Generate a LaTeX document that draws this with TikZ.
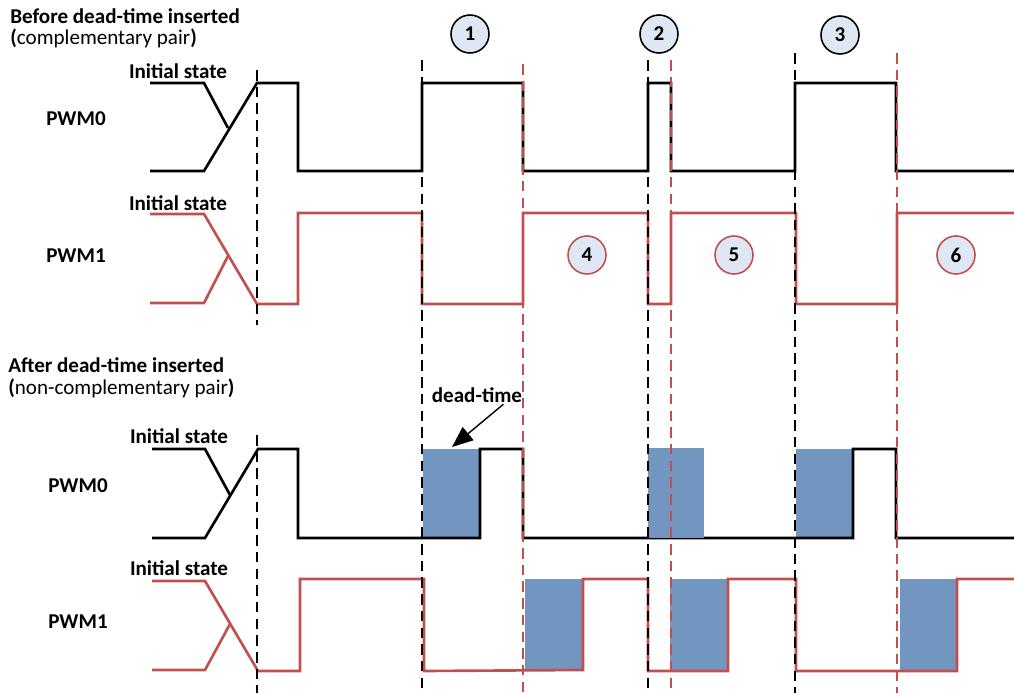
\documentclass[tikz,border=0pt]{standalone}
\usepackage{fontspec}
\setmainfont{Carlito}
\usetikzlibrary{arrows.meta,positioning}
\definecolor{pwmred}{RGB}{192,80,77}
\definecolor{dtblue}{RGB}{115,150,192}
\definecolor{numfill}{RGB}{222,231,243}

\begin{document}
\begin{tikzpicture}[
  x=0.02cm,
  y=-0.02cm,
  headtext/.style={
    anchor=base west,
    inner sep=0pt,
    font=\fontsize{12}{14}\selectfont
  },
  signame/.style={
    anchor=base,
    inner sep=0pt,
    font=\bfseries\fontsize{12}{14}\selectfont
  },
  num/.style={
    circle,
    draw,
    fill=numfill,
    line width=0.9pt,
    minimum size=0.76cm,
    inner sep=0pt,
    font=\bfseries\fontsize{12}{14}\selectfont
  },
  rednum/.style={num, draw=pwmred},
  sig/.style={line width=1.5pt, line join=miter},
  redsig/.style={sig, draw=pwmred},
  cut/.style={line width=0.85pt, dash pattern=on 6pt off 3.5pt},
  redcut/.style={cut, draw=pwmred},
  dead/.style={fill=dtblue},
  arr/.style={-{Triangle[length=0.42cm, width=0.34cm]}, thick}
]
\useasboundingbox (0,0) rectangle (1014,693);

\node[headtext] (before) at (10,23) {\textbf{Before dead-time inserted}};
\node[headtext] (beforepair) at (10,44) {\textbf{(}complementary pair\textbf{)}};
\node[headtext] (after) at (8,372) {\textbf{After dead-time inserted}};
\node[headtext] (afterpair) at (8,394) {\textbf{(}non-complementary pair\textbf{)}};

\node[signame] (init0a) at (178,78) {Initial state};
\node[signame] (pwm0a) at (76,125) {PWM0};
\node[signame] (init1a) at (178,210) {Initial state};
\node[signame] (pwm1a) at (76,262) {PWM1};
\node[signame] (init0b) at (179,443) {Initial state};
\node[signame] (pwm0b) at (78,492) {PWM0};
\node[signame] (init1b) at (179,575) {Initial state};
\node[signame] (pwm1b) at (78,628) {PWM1};

\node[num] (n1) at (470,34) {1};
\node[num] (n2) at (659,34) {2};
\node[num] (n3) at (840,35) {3};
\node[rednum] (n4) at (587,255) {4};
\node[rednum] (n5) at (734,255) {5};
\node[rednum] (n6) at (956,255) {6};

\fill[dead] (423,449) rectangle (480,538);
\fill[dead] (796,449) rectangle (853,538);
\fill[dead] (525,579) rectangle (583,670);
\fill[dead] (670,579) rectangle (728,670);
\fill[dead] (900,579) rectangle (957,670);

\draw[sig] (150,83) -- (204,83) -- (228,128);
\draw[sig] (150,171) -- (204,171) -- (257,83) -- (298,83) -- (298,171) -- (422,171) -- (422,83) -- (523,83) -- (523,171) -- (648,171) -- (648,83) -- (671,83) -- (671,171) -- (795,171) -- (795,83) -- (896,83) -- (896,171) -- (1014,171);

\draw[redsig] (150,303) -- (204,303) -- (228,256);
\draw[redsig] (150,214) -- (204,214) -- (257,304) -- (298,304) -- (298,213) -- (422,213) -- (422,304) -- (523,304) -- (523,213) -- (648,213) -- (648,304) -- (671,304) -- (671,213) -- (796,213) -- (796,304) -- (897,304) -- (897,213) -- (1014,213);

\draw[sig] (152,449) -- (205,449) -- (230,495);
\draw[sig] (152,538) -- (205,538) -- (258,449) -- (298,449) -- (298,538) -- (480,538) -- (480,449) -- (523,449) -- (523,538) -- (853,538) -- (853,449) -- (896,449) -- (896,538) -- (1014,538);

\draw[redsig] (152,670) -- (205,670) -- (230,624);
\draw[redsig] (152,581) -- (205,581) -- (258,671) -- (300,671) -- (300,579) -- (424,579) -- (424,671) -- (583,670) -- (583,579) -- (648,579) -- (648,671) -- (728,671) -- (728,579) -- (796,579) -- (796,671) -- (957,671) -- (957,579) -- (1014,579);

\fill[dead] (648,448) rectangle (704,538);

\draw[cut] (257,70) -- (257,325);
\draw[cut] (257,435) -- (257,693);
\draw[cut] (422,60) -- (422,693);
\draw[cut] (648,60) -- (648,693);
\draw[cut] (795,53) -- (795,693);
\draw[redcut] (523,64) -- (523,693);
\draw[redcut] (671,60) -- (671,693);
\draw[redcut] (897,53) -- (897,693);

\node[signame, inner sep=1pt] (deadtime) at (477,402) {dead-time};
\coordinate (deadtip) at (452,447);
\draw[arr] (deadtime.-20) -- (deadtip);
\end{tikzpicture}
\end{document}
